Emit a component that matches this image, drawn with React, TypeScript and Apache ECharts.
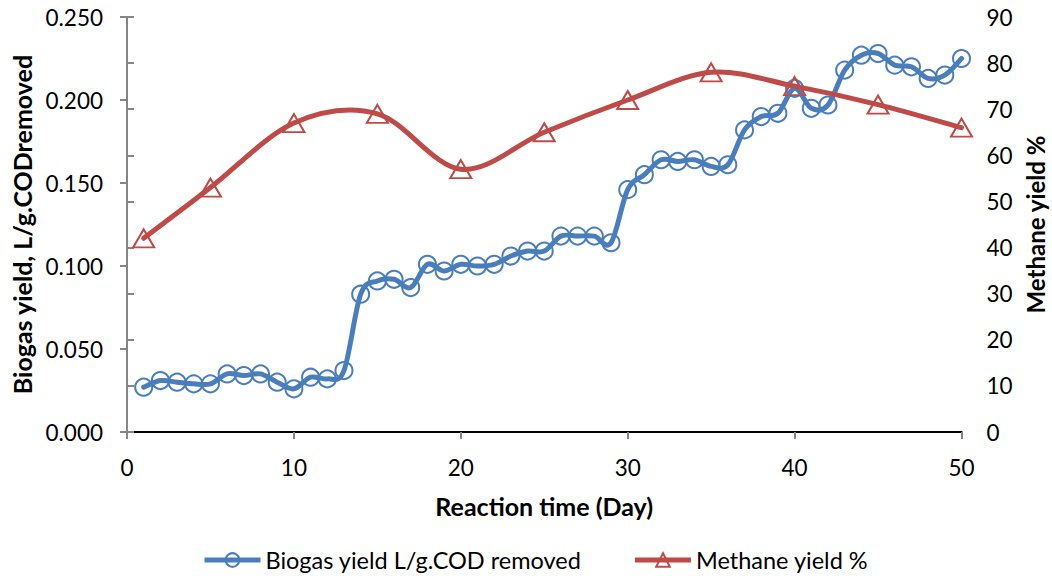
import React, { useEffect, useRef } from "react";
import * as echarts from "echarts";

const days: number[] = Array.from({ length: 50 }, (_, i) => i + 1);
const biogasYield: number[] = [
  0.027, 0.031, 0.030, 0.029, 0.029, 0.035, 0.034, 0.035, 0.030, 0.026,
  0.033, 0.032, 0.037, 0.083, 0.091, 0.092, 0.087, 0.101, 0.097, 0.101,
  0.100, 0.101, 0.106, 0.109, 0.109, 0.118, 0.118, 0.118, 0.114, 0.146,
  0.155, 0.164, 0.163, 0.164, 0.160, 0.161, 0.182, 0.190, 0.192, 0.207,
  0.195, 0.197, 0.218, 0.227, 0.228, 0.221, 0.220, 0.213, 0.215, 0.225,
];
const methaneDays: number[] = [1, 5, 10, 15, 20, 25, 30, 35, 40, 45, 50];
const methaneYield: number[] = [42, 53, 67, 69, 57, 65, 72, 78, 75, 71, 66];

const FONT = "Lato, 'Open Sans', sans-serif";
const AXIS_GRAY = "#868686";
const BLUE = "#4a7ebb";
const RED = "#be4b48";
const BIOGAS = "Biogas yield L/g.COD removed";
const METHANE = "Methane yield %";

// Smooth curve (Catmull-Rom style, like spreadsheet smoothing) built from axis coordinates
function curveRenderer(xs: number[], ys: number[], color: string) {
  return (params: any, api: any) => {
    if (params.dataIndex !== 0) return null;
    const p = xs.map((x, i) => api.coord([x, ys[i]]) as number[]);
    const n = p.length;
    const k = 1 / 6;
    let d = `M${p[0][0]},${p[0][1]}`;
    for (let i = 0; i < n - 1; i++) {
      const p0 = p[Math.max(i - 1, 0)];
      const p1 = p[i];
      const p2 = p[i + 1];
      const p3 = p[Math.min(i + 2, n - 1)];
      const c1x = p1[0] + (p2[0] - p0[0]) * k;
      const c1y = p1[1] + (p2[1] - p0[1]) * k;
      const c2x = p2[0] - (p3[0] - p1[0]) * k;
      const c2y = p2[1] - (p3[1] - p1[1]) * k;
      d += ` C${c1x},${c1y} ${c2x},${c2y} ${p2[0]},${p2[1]}`;
    }
    return {
      type: "path",
      shape: { pathData: d },
      style: { stroke: color, lineWidth: 5, fill: "none", lineJoin: "round", lineCap: "round" },
      silent: true,
    };
  };
}

export default function App() {
  const ref = useRef<HTMLDivElement>(null);
  useEffect(() => {
    if (!ref.current) return;
    const chart = echarts.init(ref.current, undefined, { renderer: "svg" });
    const axisLine = { show: true, lineStyle: { color: AXIS_GRAY, width: 2 } };
    const axisTick = { show: true, inside: false, length: 7, lineStyle: { color: AXIS_GRAY, width: 2 } };
    const titleStyle = { color: "#000", fontSize: 25, fontWeight: "bold", fontFamily: FONT };
    chart.setOption({
      animation: false,
      textStyle: { fontFamily: FONT },
      grid: { left: 127, right: 90.5, top: 17, bottom: 147, containLabel: false, outerBoundsMode: "none" },
      xAxis: [
        {
          type: "value",
          min: 0,
          max: 50,
          interval: 10,
          axisLine,
          axisTick,
          splitLine: { show: false },
          axisLabel: { color: "#000", fontSize: 22.5, fontFamily: FONT, margin: 24 },
          name: "Reaction time (Day)",
          nameLocation: "middle",
          nameGap: 61,
          nameTextStyle: titleStyle,
        },
        {
          type: "value",
          position: "top",
          min: 0,
          max: 50,
          axisLine: { show: true, lineStyle: { color: "#000", width: 2 } },
          axisTick: { show: false },
          axisLabel: { show: false },
          splitLine: { show: false },
        },
      ],
      yAxis: [
        {
          type: "value",
          min: 0,
          max: 0.25,
          interval: 0.05,
          position: "left",
          axisLine,
          axisTick,
          splitLine: { show: false },
          axisLabel: {
            color: "#000",
            fontSize: 22.5,
            fontFamily: FONT,
            margin: 24,
            formatter: (v: number) => v.toFixed(3),
          },
          name: "Biogas yield, L/g.CODremoved",
          nameLocation: "middle",
          nameGap: 93,
          nameTextStyle: titleStyle,
        },
        {
          type: "value",
          min: 0,
          max: 90,
          interval: 10,
          position: "right",
          axisLine,
          axisTick,
          splitLine: { show: false },
          axisLabel: { color: "#000", fontSize: 22.5, fontFamily: FONT, margin: 25 },
          name: "Methane yield %",
          nameLocation: "middle",
          nameGap: 62,
          nameRotate: 90,
          nameTextStyle: { ...titleStyle, fontSize: 24 },
        },
      ],
      legend: {
        left: 197,
        top: 543,
        itemGap: 51,
        itemWidth: 56,
        itemHeight: 17,
        textStyle: { color: "#000", fontSize: 23.5, fontFamily: FONT },
        data: [
          { name: BIOGAS, lineStyle: { color: BLUE, width: 5, opacity: 1 } },
          { name: METHANE, lineStyle: { color: RED, width: 5, opacity: 1 } },
        ],
      },
      series: [
        {
          name: "biogasCurve",
          type: "custom",
          xAxisIndex: 0,
          yAxisIndex: 0,
          data: [[days[0], biogasYield[0]]],
          renderItem: curveRenderer(days, biogasYield, BLUE),
          z: 2,
        },
        {
          name: BIOGAS,
          type: "line",
          xAxisIndex: 0,
          yAxisIndex: 0,
          data: days.map((d, i) => [d, biogasYield[i]]),
          symbol: "circle",
          symbolSize: 17,
          showAllSymbol: true,
          lineStyle: { color: BLUE, width: 5, opacity: 0 },
          itemStyle: { color: "rgba(255,255,255,0)", borderColor: BLUE, borderWidth: 2 },
          z: 3,
        },
        {
          name: "methaneCurve",
          type: "custom",
          xAxisIndex: 0,
          yAxisIndex: 1,
          data: [[methaneDays[0], methaneYield[0]]],
          renderItem: curveRenderer(methaneDays, methaneYield, RED),
          z: 4,
        },
        {
          name: METHANE,
          type: "line",
          xAxisIndex: 0,
          yAxisIndex: 1,
          data: methaneDays.map((d, i) => [d, methaneYield[i]]),
          symbol: "triangle",
          symbolSize: [21, 18],
          showAllSymbol: true,
          lineStyle: { color: RED, width: 5, opacity: 0 },
          itemStyle: { color: "rgba(255,255,255,0)", borderColor: RED, borderWidth: 2 },
          z: 5,
        },
      ],
    });
    return () => chart.dispose();
  }, []);
  return <div ref={ref} style={{ width: 1052, height: 579, position: "absolute", left: 0, top: 0 }} />;
}
